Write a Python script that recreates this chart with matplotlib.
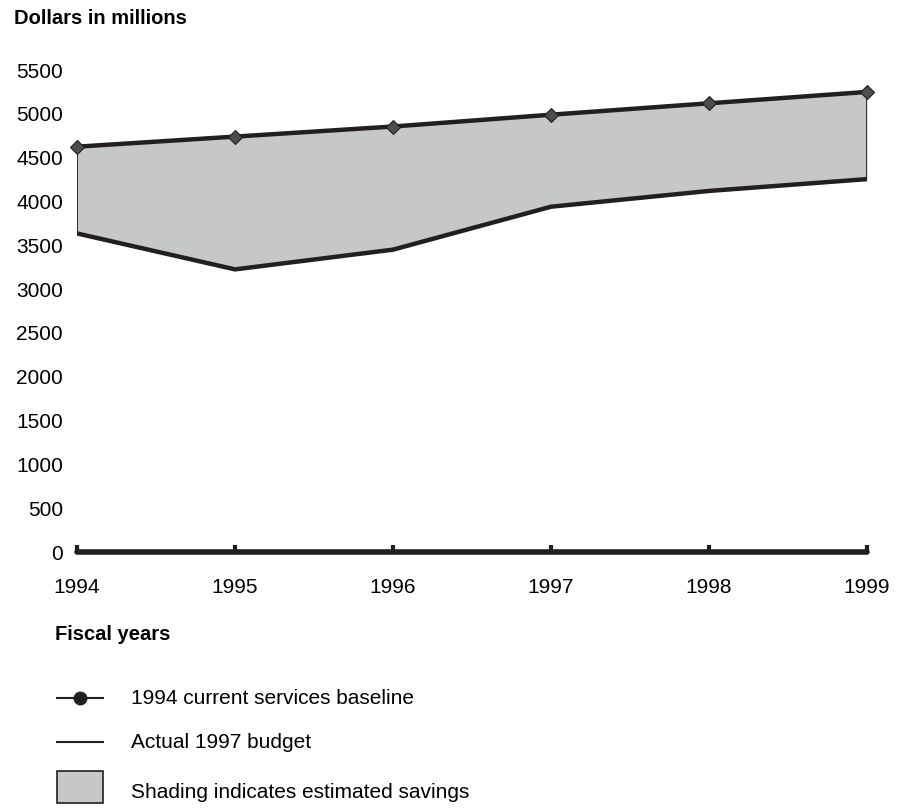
import matplotlib.pyplot as plt
from matplotlib.lines import Line2D
from matplotlib.patches import Rectangle

# values
years = [1994, 1995, 1996, 1997, 1998, 1999]
baseline_1994 = [4625, 4740, 4855, 4990, 5120, 5250]
actual_1997 = [3635, 3225, 3450, 3940, 4120, 4255]
zero_line = [0, 0, 0, 0, 0, 0]
yticks = [0, 500, 1000, 1500, 2000, 2500, 3000, 3500, 4000, 4500, 5000, 5500]

plt.rcParams['font.family'] = ['Liberation Sans', 'DejaVu Sans']
dark = '#231f20'
shade = '#c6c7c9'

W, H = 902, 810
fig = plt.figure(figsize=(W / 100, H / 100), dpi=100)
ax = fig.add_axes([77 / W, 1 - 552 / H, (867 - 77) / W, (552 - 70) / H])

# shaded savings area
ax.fill_between(years, actual_1997, baseline_1994, color=shade, lw=0, zorder=1)
ax.vlines([years[0], years[-1]], [actual_1997[0], actual_1997[-1]],
          [baseline_1994[0], baseline_1994[-1]], color=dark, lw=1.3, zorder=2)

ax.plot(years, actual_1997, color=dark, lw=3.2, solid_capstyle='butt', zorder=3)
ax.plot(years, baseline_1994, color=dark, lw=3.2, marker='D', markersize=7,
        markerfacecolor='#4d4d4f', markeredgecolor=dark, markeredgewidth=0.8,
        zorder=4, clip_on=False)
ax.plot(years, zero_line, color=dark, lw=4, solid_capstyle='round',
        marker=2, markersize=5, markeredgewidth=3, markeredgecolor=dark,
        zorder=4, clip_on=False)

ax.set_xlim(years[0], years[-1])
ax.set_ylim(0, 5500)
ax.set_xticks(years)
ax.set_yticks(yticks)
ax.tick_params(axis='both', length=0, labelsize=15, colors='black')
ax.tick_params(axis='y', pad=10)
ax.tick_params(axis='x', pad=19)
for s in ax.spines.values():
    s.set_visible(False)

fig.text(14 / W, 1 - 18 / H, 'Dollars in millions', fontsize=14.5,
         fontweight='bold', va='center', ha='left')
fig.text(55 / W, 1 - 634 / H, 'Fiscal years', fontsize=14.5,
         fontweight='bold', va='center', ha='left')

# legend drawn by hand
fig.add_artist(Line2D([57 / W, 103 / W], [1 - 698 / H, 1 - 698 / H],
                      transform=fig.transFigure, color=dark, lw=1.5))
fig.add_artist(Line2D([80 / W], [1 - 698 / H], transform=fig.transFigure,
                      marker='o', markersize=9, color=dark))
fig.add_artist(Line2D([57 / W, 103 / W], [1 - 742 / H, 1 - 742 / H],
                      transform=fig.transFigure, color=dark, lw=1.5))
fig.add_artist(Rectangle((57 / W, 1 - 803 / H), 46 / W, 32 / H,
                         transform=fig.transFigure, facecolor=shade,
                         edgecolor=dark, lw=1.2))
fig.text(131 / W, 1 - 698 / H, '1994 current services baseline', fontsize=15,
         va='center', ha='left')
fig.text(131 / W, 1 - 742 / H, 'Actual 1997 budget', fontsize=15,
         va='center', ha='left')
fig.text(131 / W, 1 - 792 / H, 'Shading indicates estimated savings',
         fontsize=15, va='center', ha='left')

fig.savefig('out.png', dpi=100)
